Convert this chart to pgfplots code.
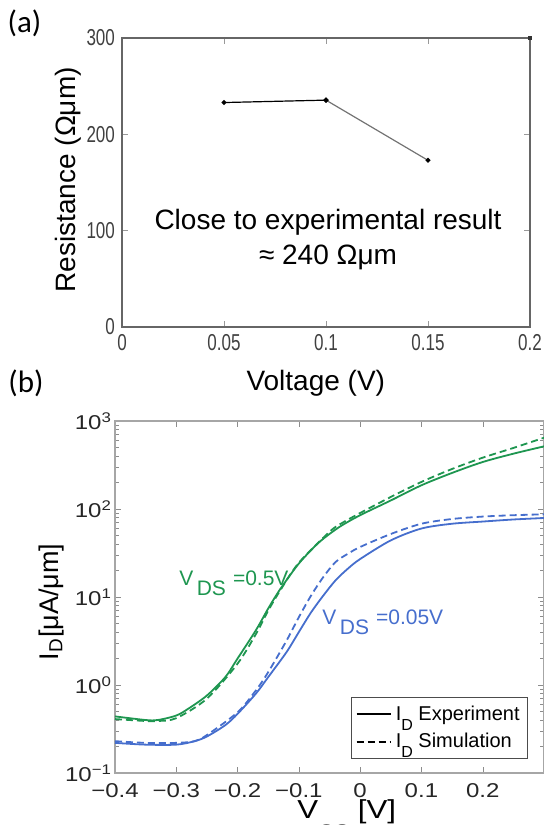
\documentclass[border=0pt]{standalone}
\usepackage{fontspec}
\setmainfont{Liberation Sans}
\newfontfamily\narrowfont[FakeStretch=0.74]{Liberation Sans}
\newfontfamily\widefont[FakeStretch=1.2]{Liberation Sans}
\newfontfamily\calfont{Carlito}
\usepackage{pgfplots}
\pgfplotsset{compat=1.18}
\definecolor{vgreen}{RGB}{30,150,80}
\definecolor{vblue}{RGB}{70,110,205}

\begin{document}
\begin{tikzpicture}

% (a) resistance vs voltage
\begin{axis}[
    at={(61pt,249pt)}, anchor=south west,
    scale only axis, width=204pt, height=144.5pt,
    xmin=0, xmax=0.2, ymin=0, ymax=300,
    xtick={0,0.05,0.1,0.15,0.2}, xticklabels={0,0.05,0.1,0.15,0.2},
    ytick={0,100,200,300}, yticklabels={0,100,200,300},
    ticklabel style={font=\narrowfont\fontsize{11.5}{12}\selectfont, text=black!75},
    axis line style={black!60, line width=0.7pt},
    major tick style={black!40}, major tick length=3pt,
    xlabel={Voltage (V)}, ylabel={Resistance (Ωμm)},
    label style={font=\fontsize{14}{16}\selectfont},
    xlabel style={at={(axis description cs:0.475,-0.194)}, anchor=center},
    ylabel style={at={(axis description cs:-0.132,0.509)}, anchor=center},
    clip=false,
]
\addplot[black, line width=0.6pt, mark=*, mark size=0.9pt] coordinates {(0.05,233) (0.1,235.5)};
\addplot[black!55, line width=0.6pt, mark=*, mark size=0.9pt, mark options={black}] coordinates {(0.1,235.5) (0.15,173)};
\addplot[black!80, only marks, mark=square*, mark size=0.7pt] coordinates {(0.2,300)};
\node[align=center, font=\fontsize{14}{17.5}\selectfont] at (axis cs:0.101,90.8)
    {Close to experimental result\\≈ 240 Ωμm};
\end{axis}

% (b) transfer curves
\begin{axis}[
    at={(57.5pt,26pt)}, anchor=south west,
    scale only axis, width=214.5pt, height=176pt,
    ymode=log, xmin=-0.4, xmax=0.3, ymin=0.1, ymax=1000,
    xtick={-0.4,-0.3,-0.2,-0.1,0,0.1,0.2,0.3},
    xticklabels={−0.4,−0.3,−0.2,−0.1,0,0.1,0.2,{}},
    ytick={0.1,1,10,100,1000},
    yticklabels={10\textsuperscript{−1},10\textsuperscript{0},10\textsuperscript{1},10\textsuperscript{2},10\textsuperscript{3}},
    ticklabel style={font=\widefont\fontsize{10}{12}\selectfont, text=black!85},
    xticklabel style={yshift=-1.5pt},
    yticklabel style={xshift=2pt},
    axis line style={black!35, line width=0.7pt},
    major tick style={black!45}, minor tick style={black!45},
    major tick length=3pt, minor tick length=2pt,
    xlabel={V\raisebox{-0.75em}{\fontsize{9}{9}\selectfont GS} [V]},
    ylabel={I\textsubscript{D}[μA/μm]},
    ylabel style={font=\fontsize{13.5}{16}\selectfont,
        at={(axis description cs:-0.149,0.486)}, anchor=center},
    xlabel style={font=\widefont\fontsize{13}{15}\selectfont, inner sep=0pt,
        at={(axis description cs:0.424,-0.128)}, anchor=base west},
    legend style={at={(rel axis cs:0.9627,0.040)}, anchor=south east,
        draw=black!70, font=\fontsize{10}{12}\selectfont,
        inner sep=2pt, row sep=1pt},
    legend cell align=left,
    clip=true,
]
% V_DS = 0.5 V, experiment
\addplot[vgreen, line width=0.9pt, smooth, forget plot] coordinates {
    (-0.40,0.44) (-0.35,0.40) (-0.33,0.40) (-0.30,0.45) (-0.28,0.54)
    (-0.25,0.76) (-0.22,1.23) (-0.20,2.0) (-0.17,4.2) (-0.15,7.4)
    (-0.13,12.4) (-0.10,24) (-0.07,40) (-0.05,52) (-0.03,65)
    (0.00,85) (0.05,125) (0.10,186) (0.15,257) (0.20,342)
    (0.25,425) (0.30,515)
};
% V_DS = 0.5 V, simulation
\addplot[vgreen, line width=0.9pt, smooth, dash pattern=on 3.5pt off 2pt, forget plot] coordinates {
    (-0.40,0.41) (-0.35,0.39) (-0.33,0.39) (-0.30,0.42) (-0.25,0.70)
    (-0.20,1.75) (-0.17,3.8) (-0.15,7.0) (-0.13,12) (-0.10,24.5)
    (-0.05,55) (-0.03,69) (0.00,90) (0.05,137) (0.10,203)
    (0.15,285) (0.20,383) (0.25,494) (0.30,646)
};
% V_DS = 0.05 V, experiment
\addplot[vblue, line width=0.9pt, smooth, forget plot] coordinates {
    (-0.40,0.22) (-0.35,0.21) (-0.30,0.21) (-0.27,0.23) (-0.25,0.26)
    (-0.22,0.35) (-0.20,0.47) (-0.17,0.80) (-0.15,1.23) (-0.12,2.37)
    (-0.10,4.0) (-0.08,6.7) (-0.06,10.4) (-0.04,15.5) (-0.02,21)
    (0.00,27) (0.05,44) (0.10,60) (0.15,68) (0.20,72)
    (0.25,76) (0.30,79)
};
% V_DS = 0.05 V, simulation
\addplot[vblue, line width=0.9pt, smooth, dash pattern=on 3.5pt off 2pt, forget plot] coordinates {
    (-0.40,0.23) (-0.35,0.22) (-0.30,0.22) (-0.27,0.23) (-0.25,0.27)
    (-0.20,0.49) (-0.17,0.87) (-0.15,1.4) (-0.12,3.2) (-0.10,5.9)
    (-0.08,10.4) (-0.06,16.9) (-0.04,25) (-0.02,31) (0.00,37)
    (0.05,52) (0.10,68) (0.15,77) (0.20,82) (0.25,85) (0.30,87)
};
\addlegendimage{black, line width=0.9pt}
\addlegendentry{I\raisebox{-0.5em}{\footnotesize D} Experiment}
\addlegendimage{black, line width=0.9pt, dash pattern=on 3.5pt off 2pt}
\addlegendentry{I\raisebox{-0.5em}{\footnotesize D} Simulation}
\node[anchor=base west, inner sep=0pt, text=vgreen, font=\fontsize{10.5}{12}\selectfont]
    at (rel axis cs:0.149,0.534) {V\,\raisebox{-0.5em}{DS}\,\,=0.5V};
\node[anchor=base west, inner sep=0pt, text=vblue, font=\fontsize{10.5}{12}\selectfont]
    at (rel axis cs:0.4825,0.423) {V\,\raisebox{-0.5em}{DS}\,\,=0.05V};
\end{axis}

\node[font=\calfont\fontsize{15.5}{17}\selectfont] at (12.25pt,400.75pt) {(a)};
\node[font=\calfont\fontsize{15.5}{17}\selectfont] at (13pt,221pt) {(b)};

\pgfresetboundingbox
\path[use as bounding box] (0,0) rectangle (272pt,412.5pt);
\end{tikzpicture}
\end{document}
